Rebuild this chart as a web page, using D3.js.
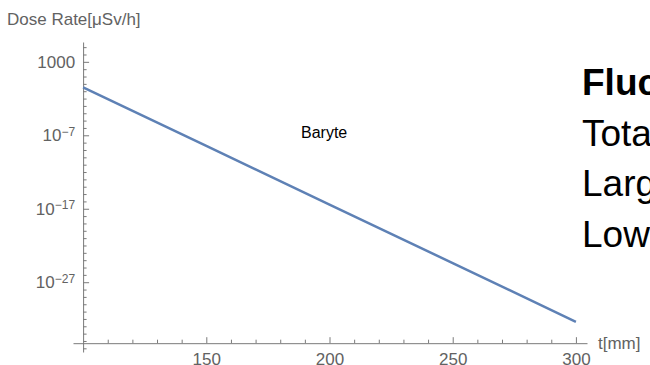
<!DOCTYPE html>
<html>
<head>
<meta charset="utf-8">
<script src="https://cdn.jsdelivr.net/npm/d3@7"></script>
<style>
  body { margin: 0; background: #fff; }
  svg { display: block; font-family: "Liberation Sans", Arial, sans-serif; }
</style>
</head>
<body>
<div id="chart"></div>
<script>
const thickness = [100, 150, 200, 250, 300];
const doseRate = [3.4e-1, 3.5e-9, 3.7e-17, 4.0e-25, 4.0e-33];
const xTickLabels = [150, 200, 250, 300];
const yMajorExp = [3, -7, -17, -27];
const sideLines = ["Fluctuation", "Total", "Large", "Low"];

const width = 650;
const height = 365;

const svg = d3.select('#chart')
  .append('svg')
    .attr('width', width)
    .attr('height', height);

const x = d3.scaleLinear()
  .domain([95.9, 304.5])
  .range([73, 587]);

const y = d3.scaleLog()
  .domain([Math.pow(10, -36.5), Math.pow(10, 5.7)])
  .range([352, 42]);

const axisColor = '#7a7a7a';
const labelColor = '#626262';
const labelSize = 17;

// y axis, ticks pointing into the plot
const yDecades = d3.range(-36, 6).map(e => Math.pow(10, e));
const yAxis = svg.append('g')
    .attr('transform', `translate(${x(100)}, 0)`)
    .call(d3.axisLeft(y)
      .tickValues(yDecades)
      .tickSizeInner(-3.5)
      .tickSizeOuter(0)
      .tickPadding(8)
      .tickFormat(''));

yAxis.selectAll('line, path').attr('stroke', axisColor);
yAxis.selectAll('.tick')
  .filter(d => yMajorExp.includes(Math.round(Math.log10(d))))
  .each(function(d) {
    const e = Math.round(Math.log10(d));
    const g = d3.select(this);
    g.select('line').attr('x2', 6);
    const t = g.select('text')
      .attr('fill', labelColor)
      .attr('font-size', labelSize);
    if (e === 3) {
      t.text('1000');
    } else {
      t.append('tspan').text('10');
      t.append('tspan')
        .attr('font-size', 12)
        .attr('dy', '-0.45em')
        .text('\u2212' + Math.abs(e));
    }
  });

// x axis, ticks pointing up
const xAxis = svg.append('g')
    .attr('transform', `translate(0, ${y(Math.pow(10, -35.3))})`)
    .call(d3.axisBottom(x)
      .tickValues(d3.range(110, 301, 10))
      .tickSizeInner(-3.5)
      .tickSizeOuter(0)
      .tickPadding(10)
      .tickFormat(d => xTickLabels.includes(d) ? d : ''));

xAxis.selectAll('line, path').attr('stroke', axisColor);
xAxis.selectAll('text').attr('fill', labelColor).attr('font-size', labelSize);
xAxis.selectAll('.tick')
  .filter(d => xTickLabels.includes(d))
  .select('line').attr('y2', -6);

svg.append('text')
    .attr('x', x(304.5) + 11)
    .attr('y', y(Math.pow(10, -35.3)) + 6)
    .attr('fill', labelColor)
    .attr('font-size', labelSize)
    .text('t[mm]');

svg.append('text')
    .attr('x', 7)
    .attr('y', 25)
    .attr('fill', labelColor)
    .attr('font-size', labelSize)
    .text('Dose Rate[\u03bcSv/h]');

// the dose curve
const pts = thickness.map((t, i) => [t, doseRate[i]]);
svg.append('path')
    .datum(pts)
    .attr('fill', 'none')
    .attr('stroke', '#5e81b5')
    .attr('stroke-width', 2.5)
    .attr('d', d3.line().x(d => x(d[0])).y(d => y(d[1])));

svg.append('text')
    .attr('x', 301)
    .attr('y', 138)
    .attr('fill', '#000')
    .attr('font-size', 16)
    .text('Baryte');

// slide text on the right, cut by the frame
svg.selectAll('.side')
  .data(sideLines)
  .join('text')
    .attr('class', 'side')
    .attr('x', 582)
    .attr('y', (d, i) => 95 + i * 50.5)
    .attr('font-size', 37)
    .attr('font-weight', (d, i) => i === 0 ? 'bold' : 'normal')
    .attr('fill', '#000')
    .text(d => d);
</script>
</body>
</html>
